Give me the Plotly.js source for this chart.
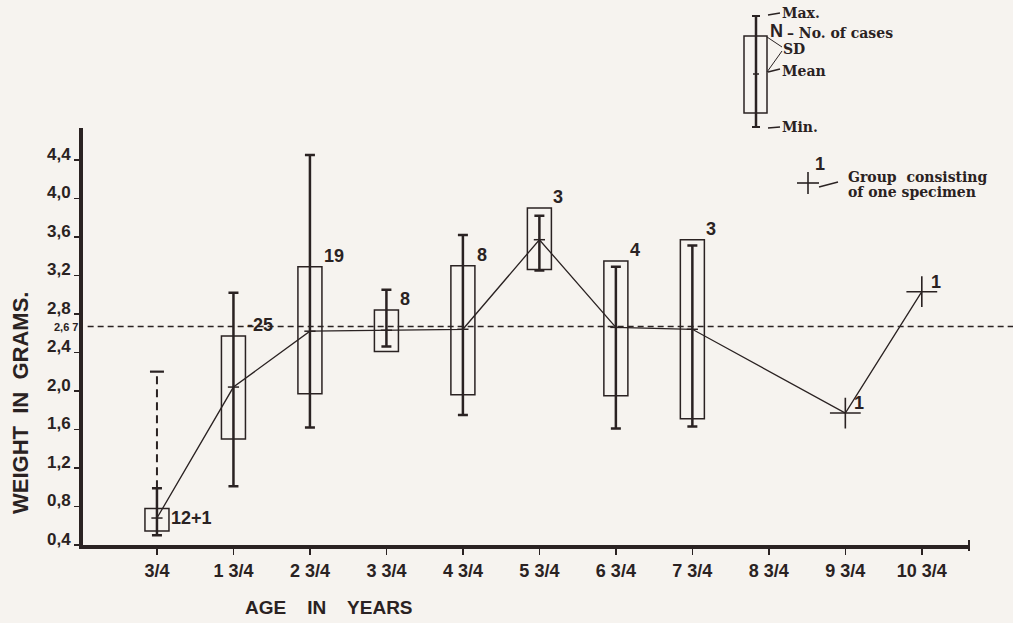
<!DOCTYPE html>
<html>
<head>
<meta charset="utf-8">
<script src="https://cdn.plot.ly/plotly-3.0.1.min.js"></script>
<style>html,body{margin:0;padding:0;background:#f6f3ef;}#chart{width:1013px;height:623px;}</style>
</head>
<body>
<div id="chart"></div>
<script>
// ---- data ----
const ages      = [0.75, 1.75, 2.75, 3.75, 4.75, 5.75, 6.75, 7.75, 9.75, 10.75];
const meanW     = [0.68, 2.04, 2.62, 2.63, 2.64, 3.57, 2.66, 2.64, 1.77, 3.03];
const sdHigh    = [0.78, 2.57, 3.29, 2.84, 3.30, 3.90, 3.35, 3.57, null, null];
const sdLow     = [0.545, 1.50, 1.97, 2.41, 1.96, 3.26, 1.95, 1.71, null, null];
const maxW      = [0.99, 3.02, 4.45, 3.05, 3.62, 3.82, 3.29, 3.51, null, null];
const minW      = [0.50, 1.01, 1.62, 2.46, 1.75, 3.25, 1.61, 1.63, null, null];
const extraMax  = [2.20, null, null, null, null, null, null, null, null, null];
const nCases    = ["12+1", "-25", "19", "8", "8", "3", "4", "3", "1", "1"];
const overallMean = 2.67;
const overallMeanLabel = "2,6 7";
const xTickVals = [0.75, 1.75, 2.75, 3.75, 4.75, 5.75, 6.75, 7.75, 8.75, 9.75, 10.75];
const xTickText = ["3/4", "1 3/4", "2 3/4", "3 3/4", "4 3/4", "5 3/4", "6 3/4", "7 3/4", "8 3/4", "9 3/4", "10 3/4"];
const yTickVals = [0.4, 0.8, 1.2, 1.6, 2.0, 2.4, 2.8, 3.2, 3.6, 4.0, 4.4];
const yTickText = ["0,4", "0,8", "1,2", "1,6", "2,0", "2,4", "2,8", "3,2", "3,6", "4,0", "4,4"];

// ---- styling ----
const INK = '#2a2222';
const BG = '#f6f3ef';
const SANS = 'Liberation Sans, Arial, sans-serif';
const NARROW = 'Liberation Sans Narrow, Arial Narrow, Liberation Sans, sans-serif';
const SERIF = 'DejaVu Serif, Liberation Serif, serif';
const W = 1013, H = 623, ML = 83, MB = 78;
// pixel -> paper helpers for the key (not data)
const PX = px => (px - ML) / (W - ML);
const PY = py => ((H - MB) - py) / (H - MB);

const traces = [];
// mean line
traces.push({
  x: ages, y: meanW, type: 'scatter', mode: 'lines',
  line: {color: INK, width: 1.3}, hoverinfo: 'skip'
});
// whiskers (min..max) with caps, mean tick
const wx = [], wy = [], wp = [], wm = [];
ages.forEach((a, i) => {
  if (maxW[i] !== null) { wx.push(a); wy.push(meanW[i]); wp.push(maxW[i] - meanW[i]); wm.push(meanW[i] - minW[i]); }
});
traces.push({
  x: wx, y: wy, type: 'scatter', mode: 'markers',
  marker: {symbol: 'line-ew', size: 8, line: {color: INK, width: 1.5}},
  error_y: {type: 'data', symmetric: false, array: wp, arrayminus: wm, thickness: 2.5, width: 5, color: INK},
  hoverinfo: 'skip'
});
// dashed extension for the extra specimen
ages.forEach((a, i) => {
  if (extraMax[i] !== null) {
    traces.push({
      x: [a, a], y: [maxW[i], extraMax[i]], type: 'scatter', mode: 'lines',
      line: {color: INK, width: 2, dash: '8px,5px'},
      hoverinfo: 'skip'
    });
    traces.push({
      x: [a], y: [extraMax[i]], type: 'scatter', mode: 'markers',
      marker: {symbol: 'line-ew', size: 10, line: {color: INK, width: 2.2}},
      hoverinfo: 'skip'
    });
  }
});
// single specimens: crosses
const sx = [], sy = [];
ages.forEach((a, i) => { if (maxW[i] === null) { sx.push(a); sy.push(meanW[i]); } });
traces.push({
  x: sx, y: sy, type: 'scatter', mode: 'markers',
  marker: {symbol: 'cross-thin', size: 22, line: {color: INK, width: 1.6}},
  hoverinfo: 'skip'
});

const shapes = [];
// SD boxes
const BOXHALF = 0.157;
ages.forEach((a, i) => {
  if (sdHigh[i] !== null) {
    shapes.push({type: 'rect', xref: 'x', yref: 'y', x0: a - BOXHALF, x1: a + BOXHALF, y0: sdLow[i], y1: sdHigh[i],
      line: {color: INK, width: 1.5}, fillcolor: 'rgba(0,0,0,0)'});
  }
});
// overall mean dashed reference line
shapes.push({type: 'line', xref: 'paper', yref: 'y', x0: 0.005, x1: 1, y0: overallMean, y1: overallMean,
  line: {color: INK, width: 1.5, dash: '6px,4px'}});
// right end tick of x axis
shapes.push({type: 'line', xref: 'paper', yref: 'paper', x0: PX(969), x1: PX(969), y0: PY(540), y1: PY(551), line: {color: INK, width: 2}});

// ---- key (legend drawing), in pixel-derived paper coords ----
function seg(x0, y0, x1, y1, w) {
  shapes.push({type: 'line', xref: 'paper', yref: 'paper', x0: PX(x0), y0: PY(y0), x1: PX(x1), y1: PY(y1), line: {color: INK, width: w}});
}
seg(756, 16, 756, 127, 2.5);
seg(752, 16, 760, 16, 2); seg(752, 127, 760, 127, 2);
shapes.push({type: 'rect', xref: 'paper', yref: 'paper', x0: PX(744), x1: PX(767), y0: PY(113), y1: PY(36), line: {color: INK, width: 1.5}});
seg(753, 74, 759, 74, 1.5);
seg(768, 15, 780, 13, 1.3);
seg(768, 72, 780, 69, 1.3);
seg(768, 128, 780, 127, 1.3);
seg(767, 37, 782, 47, 1);
seg(782, 51, 767, 72, 1);
seg(797, 183, 819, 183, 1.6);
seg(808, 172, 808, 194, 1.6);
seg(819, 187, 838, 182, 1.3);

const annotations = [];
function keyText(px, py, text, font, anchor) {
  annotations.push({xref: 'paper', yref: 'paper', x: PX(px), y: PY(py), text: text, showarrow: false,
    xanchor: anchor || 'left', yanchor: 'middle', font: font});
}
const keyFont = {family: SERIF, size: 14, color: INK, weight: 'bold'};
keyText(780, 13, 'Max.', keyFont);
keyText(768, 31, 'N', {family: SANS, size: 18, color: INK, weight: 'bold'});
keyText(785, 33, '– No. of cases', keyFont);
keyText(781, 49, 'SD', keyFont);
keyText(780, 71, 'Mean', keyFont);
keyText(780, 127, 'Min.', keyFont);
keyText(813, 164, '1', {family: NARROW, size: 18, color: INK, weight: 'bold'});
keyText(846, 177, 'Group\u00A0 consisting', keyFont);
keyText(846, 192, 'of one specimen', keyFont);

// N labels
const labelFont = {family: NARROW, size: 18, color: INK, weight: 'bold'};
ages.forEach((a, i) => {
  let y, ya, ys = 0, xs = 12;
  if (extraMax[i] !== null) { y = meanW[i]; ya = 'middle'; xs = 12; }
  else if (sdHigh[i] !== null) { y = sdHigh[i]; ya = 'bottom'; ys = -1; }
  else { y = meanW[i]; ya = 'bottom'; xs = 7; ys = -2; }
  annotations.push({x: a, y: y, xref: 'x', yref: 'y', text: nCases[i], showarrow: false,
    xanchor: 'left', yanchor: ya, xshift: xs, yshift: ys, font: labelFont});
});
// overall mean label
annotations.push({xref: 'paper', yref: 'y', x: 0, y: overallMean, text: overallMeanLabel, showarrow: false,
  xanchor: 'right', yanchor: 'middle', xshift: -3, yshift: -1, font: {family: SANS, size: 11, color: INK, weight: 'bold'}});
// axis titles
annotations.push({xref: 'paper', yref: 'paper', x: PX(20), y: PY(403), text: 'WEIGHT\u00A0 IN\u00A0 GRAMS.', showarrow: false,
  textangle: -90, xanchor: 'center', yanchor: 'middle', font: {family: SANS, size: 22, color: INK, weight: 'bold'}});
annotations.push({xref: 'paper', yref: 'paper', x: PX(329), y: PY(607), text: 'AGE\u00A0\u00A0\u00A0 IN\u00A0\u00A0\u00A0 YEARS', showarrow: false,
  xanchor: 'center', yanchor: 'middle', font: {family: SANS, size: 19, color: INK, weight: 'bold'}});

const layout = {
  width: W, height: H,
  margin: {l: ML, r: 0, t: 0, b: MB, pad: 0},
  paper_bgcolor: BG, plot_bgcolor: BG,
  showlegend: false,
  xaxis: {
    domain: [0, (970 - ML) / (W - ML)],
    range: [-0.217, 11.38],
    showline: true, linewidth: 4, linecolor: INK,
    showgrid: false, zeroline: false,
    ticks: 'outside', ticklen: 6, tickwidth: 1.5, tickcolor: INK,
    tickvals: xTickVals, ticktext: xTickText,
    tickfont: {family: SANS, size: 18, color: INK, weight: 'bold'},
    fixedrange: true
  },
  yaxis: {
    domain: [0, (545 - 128) / 545],
    range: [0.4, 4.73],
    showline: true, linewidth: 4, linecolor: INK,
    showgrid: false, zeroline: false,
    ticks: 'outside', ticklen: 5, tickwidth: 1.5, tickcolor: INK,
    tickvals: yTickVals, ticktext: yTickText,
    ticklabelshift: -6,
    tickfont: {family: SANS, size: 17, color: INK, weight: 'bold'},
    fixedrange: true
  },
  shapes: shapes,
  annotations: annotations
};

Plotly.newPlot('chart', traces, layout, {staticPlot: true, displayModeBar: false});
</script>
</body>
</html>
